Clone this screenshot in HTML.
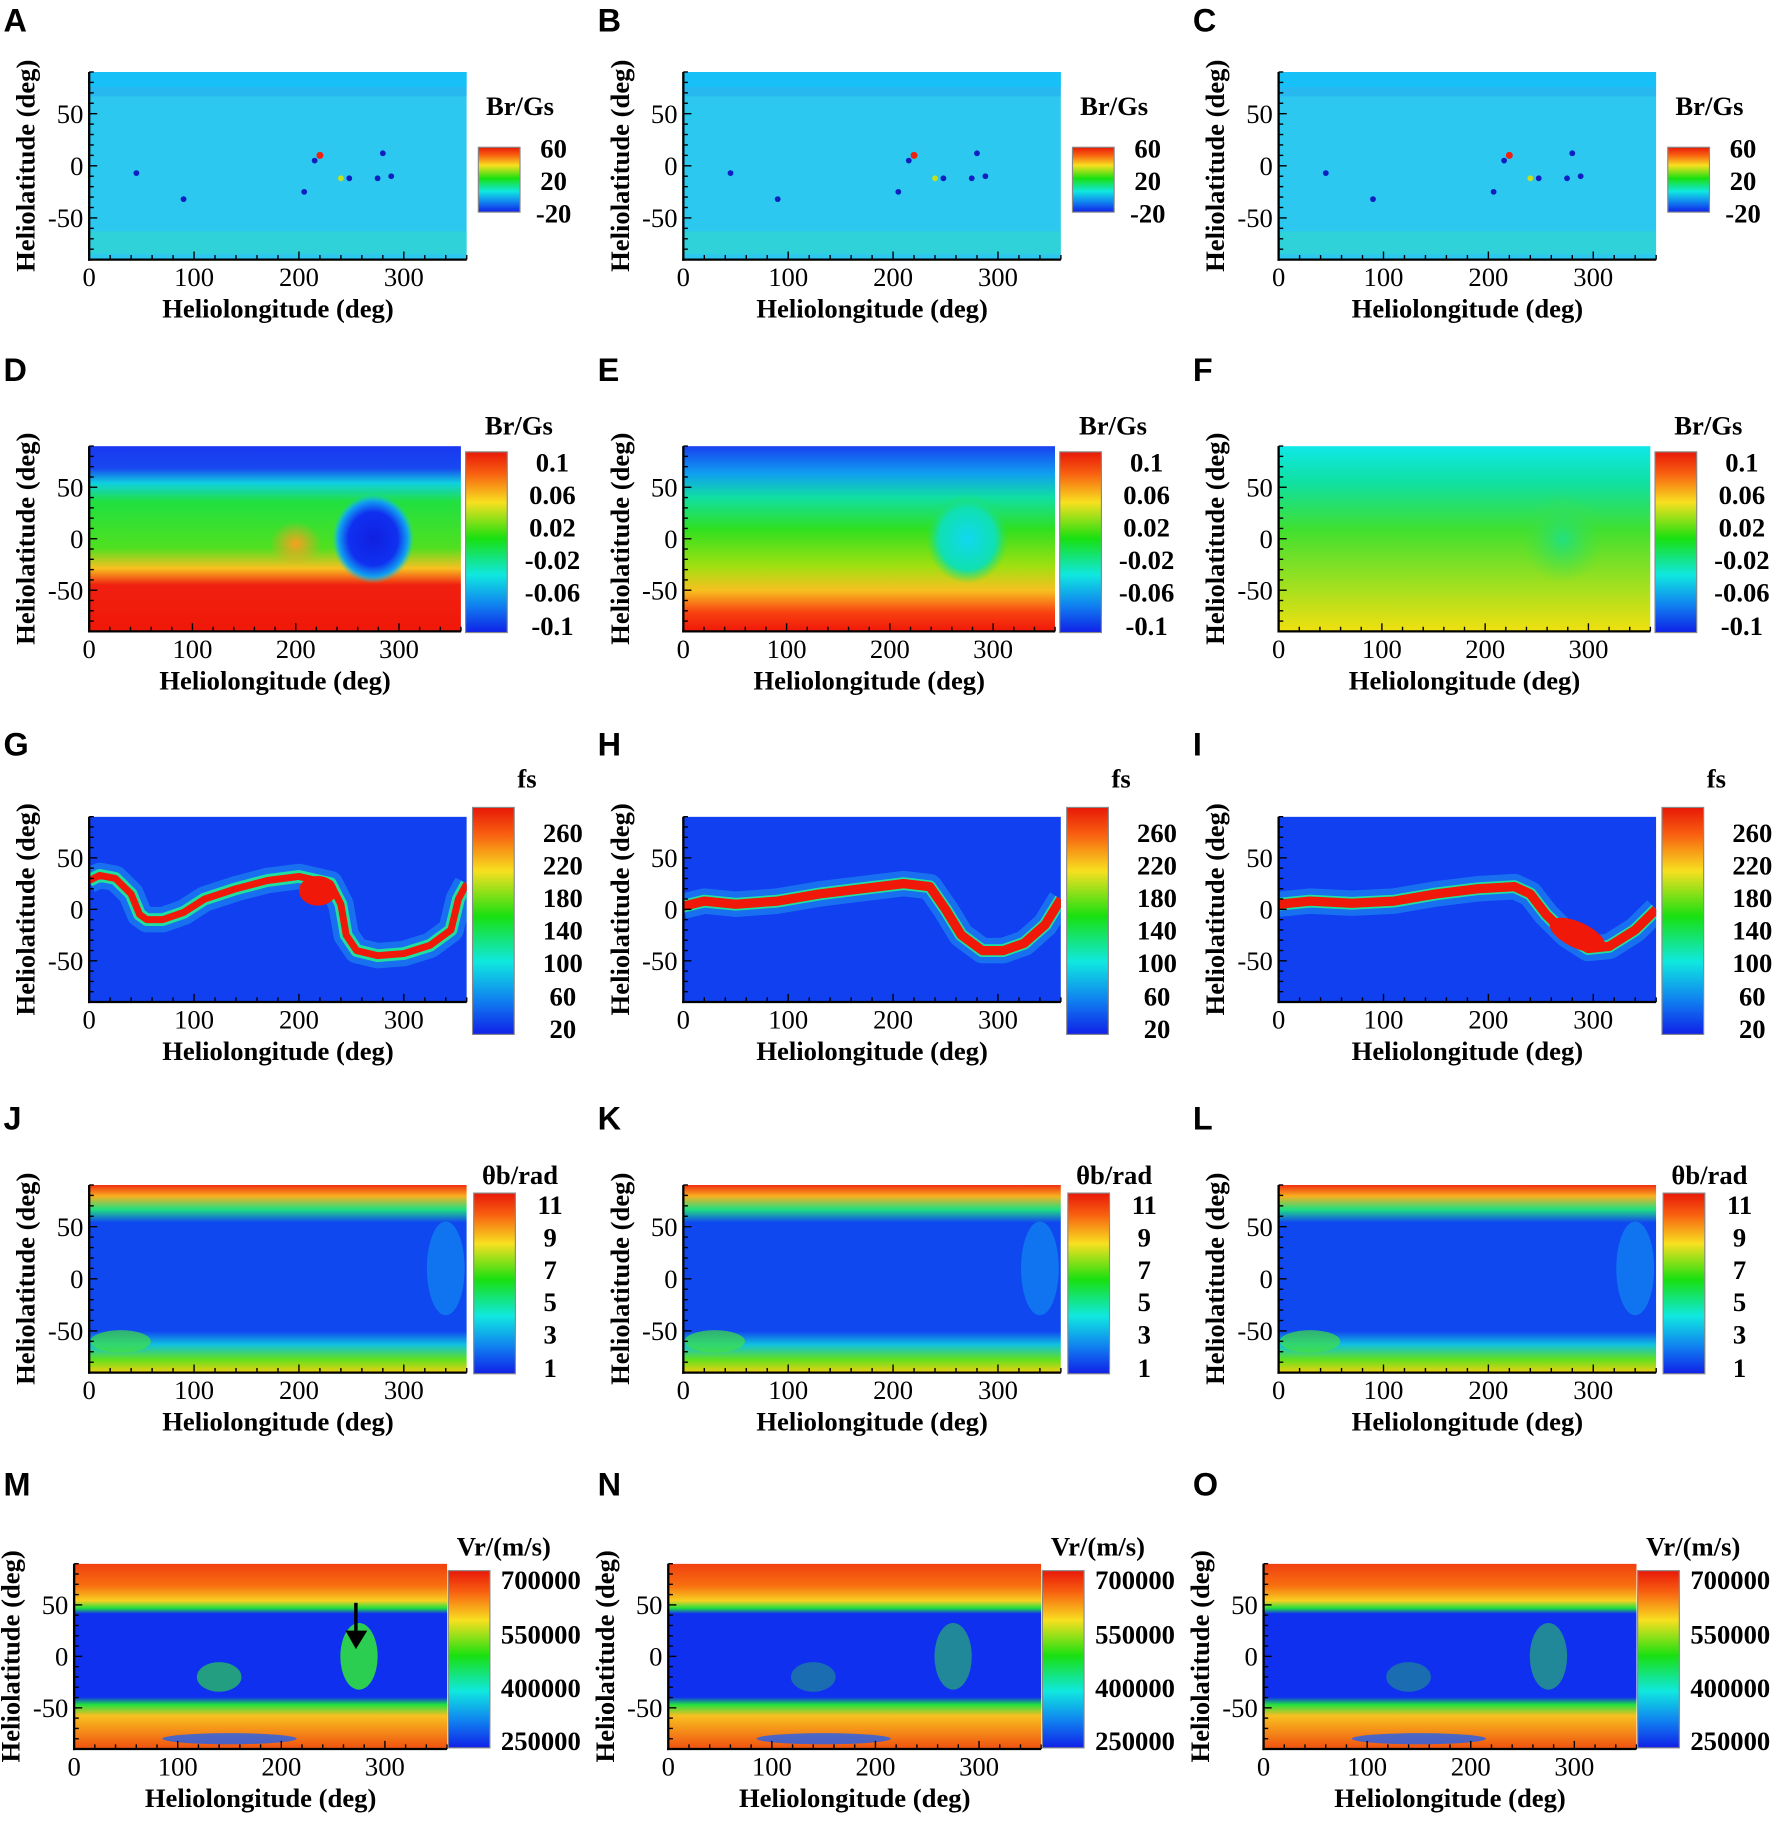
<!DOCTYPE html>
<html><head><meta charset="utf-8">
<style>
html,body{margin:0;padding:0;background:#fff;}
svg{display:block;}
text{font-family:"Liberation Serif",serif;font-weight:bold;fill:#000;}
.let{font-family:"Liberation Sans",sans-serif;font-weight:bold;}
</style></head>
<body>
<svg id="fig" width="1772" height="1821" viewBox="0 0 1530 1572" xmlns="http://www.w3.org/2000/svg">
<defs>
<linearGradient id="jet" x1="0" y1="0" x2="0" y2="1">
<stop offset="0" stop-color="#e81808"/><stop offset="0.12" stop-color="#f86010"/><stop offset="0.28" stop-color="#f8e020"/>
<stop offset="0.48" stop-color="#18e010"/><stop offset="0.68" stop-color="#10e8e0"/><stop offset="0.85" stop-color="#1080f0"/><stop offset="1" stop-color="#1020e8"/>
</linearGradient>
<linearGradient id="gD" x1="0" y1="0" x2="0" y2="1">
<stop offset="0" stop-color="#1838f0"/><stop offset="0.12" stop-color="#1848f0"/><stop offset="0.2" stop-color="#10d0e0"/><stop offset="0.3" stop-color="#20e040"/>
<stop offset="0.55" stop-color="#50e020"/><stop offset="0.66" stop-color="#f8c020"/><stop offset="0.75" stop-color="#f02010"/><stop offset="1" stop-color="#f01808"/>
</linearGradient>
<linearGradient id="gE" x1="0" y1="0" x2="0" y2="1">
<stop offset="0" stop-color="#1840f0"/><stop offset="0.15" stop-color="#10a0f0"/><stop offset="0.28" stop-color="#10e0a0"/><stop offset="0.45" stop-color="#30e020"/>
<stop offset="0.65" stop-color="#a0e010"/><stop offset="0.78" stop-color="#f8c020"/><stop offset="0.9" stop-color="#f84010"/><stop offset="1" stop-color="#f01808"/>
</linearGradient>
<linearGradient id="gF" x1="0" y1="0" x2="0" y2="1">
<stop offset="0" stop-color="#10e8e8"/><stop offset="0.2" stop-color="#10e0a0"/><stop offset="0.45" stop-color="#40e030"/>
<stop offset="0.75" stop-color="#a0e020"/><stop offset="1" stop-color="#f0e010"/>
</linearGradient>
<linearGradient id="gJ" x1="0" y1="0" x2="0" y2="1">
<stop offset="0" stop-color="#f03010"/><stop offset="0.06" stop-color="#f8b020"/><stop offset="0.13" stop-color="#20e080"/><stop offset="0.2" stop-color="#1048f0"/>
<stop offset="0.78" stop-color="#1048f0"/><stop offset="0.85" stop-color="#10c0e0"/><stop offset="0.93" stop-color="#60e020"/><stop offset="1" stop-color="#f0d010"/>
</linearGradient>
<linearGradient id="gM" x1="0" y1="0" x2="0" y2="1">
<stop offset="0" stop-color="#f04010"/><stop offset="0.12" stop-color="#f87010"/><stop offset="0.2" stop-color="#f8d020"/><stop offset="0.24" stop-color="#20e040"/>
<stop offset="0.27" stop-color="#1030f0"/><stop offset="0.72" stop-color="#1030f0"/><stop offset="0.76" stop-color="#20e040"/><stop offset="0.82" stop-color="#f8c020"/><stop offset="1" stop-color="#f05010"/>
</linearGradient>
<radialGradient id="blobD"><stop offset="0" stop-color="#1020e0"/><stop offset="0.6" stop-color="#1030f0"/><stop offset="0.85" stop-color="#10a0f0"/><stop offset="1" stop-color="#10d0e0" stop-opacity="0"/></radialGradient>
<radialGradient id="blobE"><stop offset="0" stop-color="#10d8f0"/><stop offset="0.7" stop-color="#10e0b0"/><stop offset="1" stop-color="#20e060" stop-opacity="0"/></radialGradient>
<radialGradient id="blobF"><stop offset="0" stop-color="#20e080"/><stop offset="1" stop-color="#40e040" stop-opacity="0"/></radialGradient>
<radialGradient id="blobH"><stop offset="0" stop-color="#f8a020"/><stop offset="1" stop-color="#f8a020" stop-opacity="0"/></radialGradient>
</defs>
</svg>
<script>
// ---- data ----
const xTicks = [0, 100, 200, 300];
const yTicks = [50, 0, -50];
const panelLetters = ['A','B','C','D','E','F','G','H','I','J','K','L','M','N','O'];
const cbTitles = ['Br/Gs','Br/Gs','fs','θb/rad','Vr/(m/s)'];
const cbTicksBr1 = ['60','20','-20'];
const cbTicksBr2 = ['0.1','0.06','0.02','-0.02','-0.06','-0.1'];
const cbTicksFs = ['260','220','180','140','100','60','20'];
const cbTicksTh = ['11','9','7','5','3','1'];
const cbTicksVr = ['700000','550000','400000','250000'];
// current sheet (fs) band lon/lat
const sheetG_lon = [0,10,25,40,48,55,70,90,110,140,170,200,230,240,245,255,275,300,325,345,352,360];
const sheetG_lat = [28,33,30,15,-5,-10,-10,-3,10,20,28,32,25,5,-25,-40,-45,-43,-35,-20,10,25];
const sheetH_lon = [0,20,50,90,130,170,210,235,250,265,285,305,325,345,360];
const sheetH_lat = [3,8,5,8,15,20,25,22,0,-25,-40,-40,-33,-15,10];
const sheetI_lon = [0,30,70,110,150,190,225,240,255,275,295,315,340,360];
const sheetI_lat = [5,8,6,8,15,20,22,15,-5,-25,-38,-36,-20,0];
// sunspots for Br (lon, lat)
const spotLon = [45,90,215,220,248,275,280,288,205,240];
const spotLat = [-7,-32,5,10,-12,-12,12,-10,-25,-12];

const svg = document.getElementById('fig');
const NS = 'http://www.w3.org/2000/svg';
function mk(tag, attrs, parent){const e=document.createElementNS(NS,tag);for(const k in attrs)e.setAttribute(k,attrs[k]);(parent||svg).appendChild(e);return e;}

const colDX = [0, 513, 1027];
const rows = [
 {px:77,pw:326,py:62,ph:162,cbx:413,cbw:36,cby:127,cbh:56,ttx:449,tty:99,tickx:478,ticks:cbTicksBr1,ty:[136,164,192],let:18,yt:30,fill:['#2cc8ef','#2cc8ef','#2cc8ef']},
 {px:77,pw:321,py:385,ph:160,cbx:402,cbw:36,cby:390,cbh:156,ttx:448,tty:375,tickx:477,ticks:cbTicksBr2,ty:[407,435,463,491,519,548],let:320,yt:30,fill:['url(#gD)','url(#gE)','url(#gF)']},
 {px:77,pw:326,py:705,ph:160,cbx:408,cbw:36,cby:697,cbh:196,ttx:455,tty:680,tickx:486,ticks:cbTicksFs,ty:[727,755,783,811,839,868,896],let:643,yt:30,fill:['#1040f0','#1040f0','#1040f0']},
 {px:77,pw:326,py:1023,ph:162,cbx:409,cbw:36,cby:1030,cbh:156,ttx:449,tty:1022,tickx:475,ticks:cbTicksTh,ty:[1048,1076,1104,1132,1160,1189],let:966,yt:30,fill:['url(#gJ)','url(#gJ)','url(#gJ)']},
 {px:64,pw:322,py:1350,ph:160,cbx:387,cbw:36,cby:1356,cbh:153,ttx:435,tty:1343,tickx:467,ticks:cbTicksVr,ty:[1372,1419,1465,1511],let:1282,yt:17,fill:['url(#gM)','url(#gM)','url(#gM)']}
];

rows.forEach((r,ri)=>{
 colDX.forEach((dx,ci)=>{
  const idx = ri*3+ci;
  const x0=r.px+dx, y0=r.py, w=r.pw, h=r.ph;
  const X = lon=>x0+lon/360*w;
  const Y = lat=>y0+(90-lat)/180*h;
  const g = mk('g',{});
  
  
  const L = mk('text',{x:dx+3,y:r.let+9,'font-size':28},g); L.setAttribute('class','let'); L.textContent=panelLetters[idx];
  
  
  const cp = 'cp'+idx;
  const clip = mk('clipPath',{id:cp},g); mk('rect',{x:x0,y:y0,width:w,height:h},clip);
  const hm = mk('g',{'clip-path':'url(#'+cp+')'},g);
  
  
  mk('rect',{x:x0,y:y0,width:w,height:h,fill:r.fill[ci]},hm);
  if(ri===0){
   mk('rect',{x:x0,y:y0,width:w,height:h*0.08,fill:'#18c0f8'},hm);
   mk('rect',{x:x0,y:y0+h*0.08,width:w,height:h*0.05,fill:'#20a8f0',opacity:0.5},hm);
   mk('rect',{x:x0,y:y0+h*0.85,width:w,height:h*0.12,fill:'#30d8c8',opacity:0.6},hm);
   spotLon.forEach((lo,i)=>{
    const s=mk('circle',{cx:X(lo),cy:Y(spotLat[i]),r:i===3?3:2.5,fill:i===3?'#f02010':(i===9?'#c0e020':'#1020c0')},hm);
    
    
   });
  }
  if(ri===1){
   const bl=['url(#blobD)','url(#blobE)','url(#blobF)'][ci];
   mk('ellipse',{cx:X(275),cy:Y(0),rx:w*0.11,ry:h*0.24,fill:bl},hm);
   if(ci===0){mk('ellipse',{cx:X(200),cy:Y(-5),rx:w*0.07,ry:h*0.12,fill:'url(#blobH)'},hm);}
  }
  if(ri===2){
   const lons=[sheetG_lon,sheetH_lon,sheetI_lon][ci], lats=[sheetG_lat,sheetH_lat,sheetI_lat][ci];
   const d = lons.map((lo,i)=>(i?'L':'M')+X(lo).toFixed(1)+','+Y(lats[i]).toFixed(1)).join(' ');
   mk('path',{d:d,fill:'none',stroke:'#20a0f0',opacity:0.5,'stroke-width':22,'stroke-linejoin':'round'},hm);
   mk('path',{d:d,fill:'none',stroke:'#20e0a0','stroke-width':11,'stroke-linejoin':'round'},hm);
   const p=mk('path',{d:d,fill:'none',stroke:'#f01808','stroke-width':ci===0?6:8,'stroke-linejoin':'round'},hm);
   
   
   if(ci===0) mk('ellipse',{cx:X(218),cy:Y(18),rx:w*0.05,ry:h*0.08,fill:'#f01808'},hm);
   if(ci===2) mk('ellipse',{cx:X(285),cy:Y(-25),rx:w*0.08,ry:h*0.07,fill:'#f01808',transform:'rotate(25 '+X(285)+' '+Y(-25)+')'},hm);
  }
  if(ri===3){
   mk('ellipse',{cx:X(340),cy:Y(10),rx:w*0.05,ry:h*0.25,fill:'#10a0f0',opacity:0.5},hm);
   mk('ellipse',{cx:X(30),cy:Y(-60),rx:w*0.08,ry:h*0.06,fill:'#40e040',opacity:0.7},hm);
  }
  if(ri===4){
   const gr = ci===0 ? 0.9 : 0.5;
   mk('ellipse',{cx:X(275),cy:Y(0),rx:w*0.05,ry:h*0.18,fill:'#30e040',opacity:gr},hm);
   mk('ellipse',{cx:X(140),cy:Y(-20),rx:w*0.06,ry:h*0.08,fill:'#30e040',opacity:gr*0.7},hm);
   mk('ellipse',{cx:X(150),cy:Y(-80),rx:w*0.18,ry:h*0.03,fill:'#2060f0',opacity:0.8},hm);
  }
  // axes
  const ax = mk('g',{},g);
  
  
  mk('line',{x1:x0,y1:y0,x2:x0,y2:y0+h+1,stroke:'#000','stroke-width':2},ax);
  mk('line',{x1:x0-1,y1:y0+h,x2:x0+w,y2:y0+h,stroke:'#000','stroke-width':2},ax);
  for(let lo=0;lo<=360;lo+=20){mk('line',{x1:X(lo),y1:y0+h,x2:X(lo),y2:y0+h-(lo%100===0?7:4),stroke:'#000','stroke-width':1.2},ax);}
  for(let la=-90;la<=90;la+=10){mk('line',{x1:x0,y1:Y(la),x2:x0+(la%50===0?7:4),y2:Y(la),stroke:'#000','stroke-width':1.2},ax);}
  xTicks.forEach(v=>{const t=mk('text',{x:X(v),y:y0+h+23,'font-size':23,'text-anchor':'middle'},ax);t.style.fontWeight='normal';t.textContent=v;
   
   });
  yTicks.forEach(v=>{const t=mk('text',{x:x0-5,y:Y(v)+8,'font-size':23,'text-anchor':'end'},ax);t.style.fontWeight='normal';t.textContent=v;
   
   });
  const xt=mk('text',{x:x0+w/2,y:y0+h+50,'font-size':23,'text-anchor':'middle'},ax);xt.textContent='Heliolongitude (deg)';
  
  
  const ycx=dx+r.yt, ycy=y0+h/2;
  const yt=mk('text',{x:ycx,y:ycy,'font-size':23,'text-anchor':'middle',transform:'rotate(-90 '+ycx+' '+ycy+')'},ax);yt.textContent='Heliolatitude (deg)';
  
  
  // colorbar
  const cb=mk('g',{},g);
  
  
  mk('rect',{x:r.cbx+dx,y:r.cby,width:r.cbw,height:r.cbh,fill:'url(#jet)',stroke:'#888','stroke-width':1},cb);
  const ct=mk('text',{x:r.ttx+dx,y:r.tty,'font-size':23,'text-anchor':'middle'},cb);ct.textContent=cbTitles[ri];
  
  
  r.ticks.forEach((s,i)=>{const t=mk('text',{x:r.tickx+dx,y:r.ty[i],'font-size':23,'text-anchor':'middle'},cb);t.textContent=s;
   
   });
  if(idx===12){
   const ar=mk('g',{},g);
   
   
   mk('line',{x1:X(272),y1:Y(52),x2:X(272),y2:Y(22),stroke:'#000','stroke-width':3},ar);
   mk('polygon',{points:X(262)+','+Y(25)+' '+X(283)+','+Y(25)+' '+X(272)+','+Y(7),fill:'#000'},ar);
  }
 });
});
</script>
</body></html>
